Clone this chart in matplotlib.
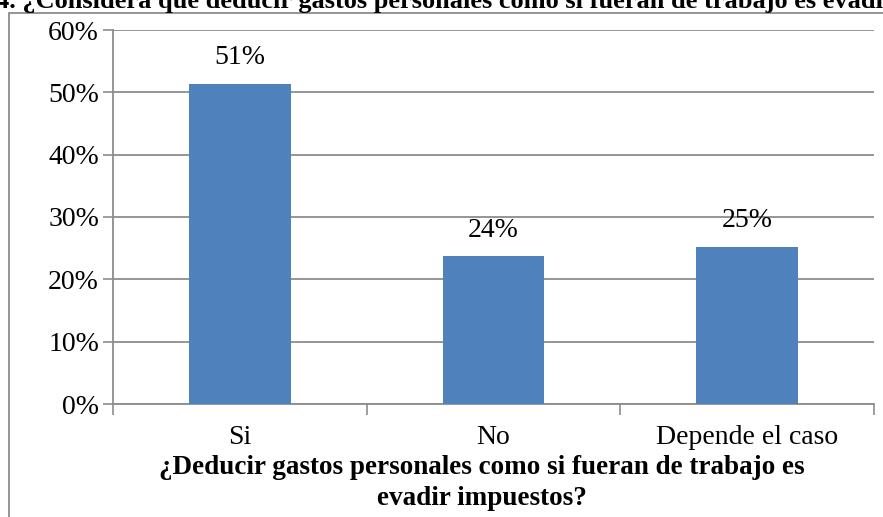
import matplotlib.pyplot as plt
from matplotlib.patches import Rectangle
from matplotlib.ticker import PercentFormatter

categorias = ['Si', 'No', 'Depende el caso']
valores = [0.514, 0.237, 0.252]
etiquetas = ['51%', '24%', '25%']

plt.rcParams['font.family'] = ['Liberation Serif', 'DejaVu Serif']

fig = plt.figure(figsize=(8.83, 5.17), dpi=100)
ax = fig.add_axes([113 / 883, 1 - 404 / 517, (874 - 113) / 883, (404 - 30) / 517])

x = range(len(categorias))
ax.bar(x, valores, width=0.4, color='#4F81BD', zorder=3)
for xi, v, t in zip(x, valores, etiquetas):
    ax.text(xi, v + 0.022, t, ha='center', va='bottom', fontsize=20)

ax.set_xlim(-0.5, 2.5)
ax.set_ylim(0, 0.6)
ax.set_yticks([0, 0.1, 0.2, 0.3, 0.4, 0.5, 0.6])
ax.yaxis.set_major_formatter(PercentFormatter(1.0, decimals=0))
ax.yaxis.grid(True, color='#8C8C8C', linewidth=1.3, zorder=0)

# category labels sit between boundary ticks
ax.set_xticks([-0.5, 0.5, 1.5, 2.5])
ax.set_xticklabels([])
ax.set_xticks(list(x), minor=True)
ax.set_xticklabels(categorias, minor=True, fontsize=20)
ax.tick_params(axis='x', which='minor', length=0, pad=15)
ax.tick_params(axis='x', which='major', length=8, color='#8C8C8C', width=1.2)
ax.tick_params(axis='y', length=7, color='#8C8C8C', width=1.2, labelsize=20, pad=3)

for s in ['top', 'right']:
    ax.spines[s].set_visible(False)
for s in ['left', 'bottom']:
    ax.spines[s].set_color('#8C8C8C')
    ax.spines[s].set_linewidth(1.3)

fig.text(482 / 883, 1 - 483 / 517,
         '¿Deducir gastos personales como si fueran de trabajo es\nevadir impuestos?',
         ha='center', va='center', fontsize=19.5, fontweight='bold', linespacing=1.3)

# outer chart border
fig.patches.append(Rectangle((9 / 883, -0.1), 1.1, 1 - 13 / 517 + 0.1,
                             transform=fig.transFigure, fill=False,
                             edgecolor='#8C8C8C', linewidth=1.3))

fig.text(-0.004, 1 - 8 / 517,
         '4. ¿Considera que deducir gastos personales como si fueran de trabajo es evadir',
         ha='left', va='baseline', fontsize=19, fontweight='bold')

fig.savefig('out.png', dpi=100)
